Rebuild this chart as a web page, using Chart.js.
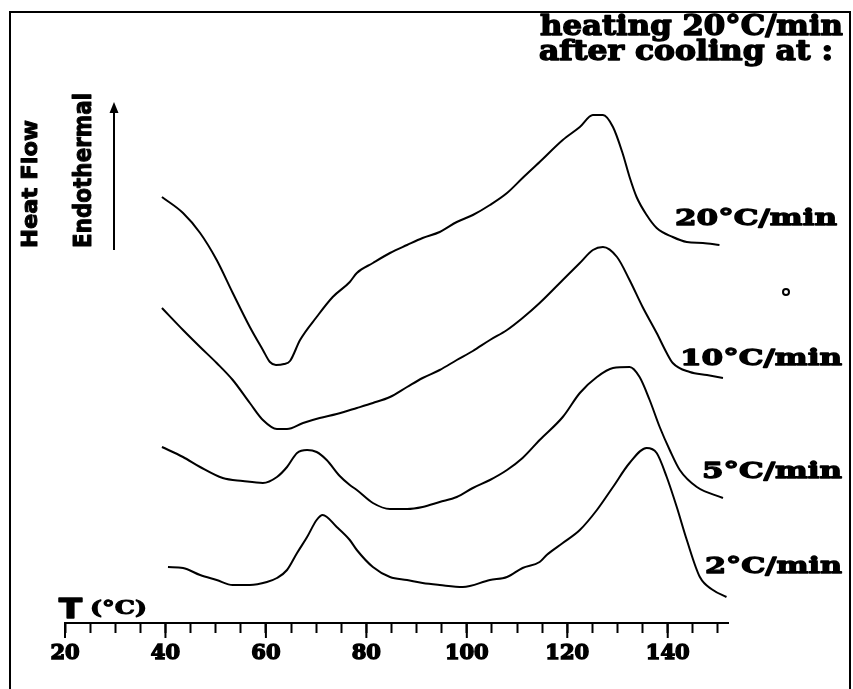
<!DOCTYPE html>
<html>
<head>
<meta charset="utf-8">
<script src="https://cdn.jsdelivr.net/npm/chart.js@4.4.1/dist/chart.umd.min.js"></script>
<style>
  html, body { margin: 0; padding: 0; background: #fff; }
  canvas { display: block; }
</style>
</head>
<body>
<canvas id="dscChart" width="853" height="689"></canvas>
<script>
// cooling rates (series names)
const rateLabels = ['20°C/min', '10°C/min', '5°C/min', '2°C/min'];
const tickLabels = [20, 40, 60, 80, 100, 120, 140];

// temperature (°C) and heat flow (arbitrary units, stacked offsets as in the figure)
const temp20 = [39.3, 43.5, 46.9, 50.2, 53.4, 56.8, 59.4, 60.8, 62.0, 63.6, 64.8, 66.8, 70.1, 73.3, 76.7, 78.1, 81.3, 84.7, 88.1, 91.2, 94.6, 98.0, 101.2, 104.6, 108.0, 111.1, 114.5, 119.1, 122.5, 125.1, 127.1, 129.1, 131.0, 132.4, 133.8, 135.8, 137.8, 141.0, 143.8, 147.0, 150.3];
const flow20 = [42.6, 41.0, 39.0, 36.3, 33.0, 29.6, 27.3, 26.1, 25.8, 25.9, 26.2, 28.3, 30.6, 32.6, 34.1, 35.0, 36.0, 37.0, 37.8, 38.5, 39.1, 40.1, 40.8, 41.8, 43.0, 44.5, 46.1, 48.3, 49.6, 50.8, 50.8, 49.6, 47.0, 44.6, 42.6, 40.8, 39.5, 38.6, 38.1, 38.0, 37.8];

const temp10 = [39.3, 43.5, 46.9, 50.2, 53.4, 56.8, 59.4, 62.2, 64.2, 67.4, 70.7, 74.1, 78.1, 81.3, 84.7, 88.1, 91.2, 94.6, 98.0, 101.2, 104.6, 108.0, 111.1, 114.5, 119.1, 122.5, 125.1, 127.1, 129.9, 132.4, 135.0, 137.8, 139.8, 141.0, 144.4, 147.8, 151.0];
const flow10 = [31.5, 29.3, 27.6, 26.0, 24.3, 22.0, 20.3, 19.4, 19.4, 20.0, 20.5, 20.9, 21.5, 22.0, 22.6, 23.6, 24.5, 25.3, 26.3, 27.2, 28.3, 29.3, 30.5, 32.0, 34.3, 36.0, 37.3, 37.6, 36.6, 34.3, 31.6, 29.0, 27.0, 26.0, 25.1, 24.8, 24.5];

const temp5 = [39.3, 43.5, 46.9, 51.4, 55.4, 59.4, 62.2, 64.2, 66.2, 68.2, 70.1, 72.1, 74.7, 76.7, 78.1, 81.3, 84.7, 88.1, 91.2, 94.6, 98.0, 101.2, 104.6, 108.0, 111.1, 114.5, 119.1, 122.5, 125.9, 129.1, 132.4, 134.4, 136.4, 138.4, 140.4, 142.4, 145.8, 151.0];
const flow5 = [17.6, 16.6, 15.6, 14.5, 14.2, 14.0, 14.6, 15.6, 17.0, 17.3, 17.1, 16.3, 14.7, 13.8, 13.3, 12.0, 11.4, 11.4, 11.6, 12.1, 12.6, 13.5, 14.3, 15.3, 16.5, 18.3, 20.6, 23.0, 24.6, 25.5, 25.6, 24.6, 22.3, 19.6, 17.3, 15.3, 13.6, 12.5];

const temp2 = [40.5, 43.5, 46.9, 50.2, 53.4, 56.8, 60.2, 62.2, 64.2, 66.2, 68.2, 70.1, 71.3, 74.1, 76.7, 78.1, 81.3, 84.7, 88.1, 91.2, 94.6, 99.2, 104.6, 108.0, 111.1, 114.5, 115.9, 119.1, 122.5, 125.9, 129.1, 132.4, 135.8, 137.8, 139.8, 141.8, 143.8, 146.4, 149.0, 151.7];
const flow2 = [5.6, 5.5, 4.8, 4.3, 3.8, 3.8, 4.1, 4.5, 5.3, 7.0, 8.6, 10.3, 10.8, 9.6, 8.3, 7.3, 5.6, 4.6, 4.3, 4.0, 3.8, 3.6, 4.3, 4.6, 5.5, 6.1, 6.8, 8.0, 9.3, 11.3, 13.6, 16.0, 17.5, 17.0, 14.6, 11.6, 8.3, 4.6, 3.3, 2.6];

const toPoints = (xs, ys) => xs.map((x, i) => ({ x: x, y: ys[i] }));

function makeSet(label, xs, ys) {
    return {
        label: label,
        data: toPoints(xs, ys),
        borderColor: '#000',
        borderWidth: 2,
        pointRadius: 0,
        fill: false,
        cubicInterpolationMode: 'monotone'
    };
}

// draws heavy bold text squeezed/stretched into a given box
function fitText(ctx, text, left, right, baseline, size, family, stroke) {
    ctx.font = 'bold ' + size + 'px ' + family;
    const w = ctx.measureText(text).width;
    ctx.save();
    ctx.translate(left, baseline);
    ctx.scale((right - left) / w, 1);
    ctx.textAlign = 'left';
    ctx.textBaseline = 'alphabetic';
    ctx.lineJoin = 'round';
    ctx.lineWidth = stroke;
    ctx.fillText(text, 0, 0);
    if (stroke) ctx.strokeText(text, 0, 0);
    ctx.restore();
}

function fitTextUp(ctx, text, baseX, bottom, top, size, family, stroke) {
    ctx.font = 'bold ' + size + 'px ' + family;
    const w = ctx.measureText(text).width;
    ctx.save();
    ctx.translate(baseX, bottom);
    ctx.rotate(-Math.PI / 2);
    ctx.scale((bottom - top) / w, 1);
    ctx.textAlign = 'left';
    ctx.textBaseline = 'alphabetic';
    ctx.lineJoin = 'round';
    ctx.lineWidth = stroke;
    ctx.fillText(text, 0, 0);
    if (stroke) ctx.strokeText(text, 0, 0);
    ctx.restore();
}

const decorPlugin = {
    id: 'decor',
    beforeDraw(chart) {
        const ctx = chart.ctx;
        ctx.save();
        ctx.fillStyle = '#fff';
        ctx.fillRect(0, 0, chart.width, chart.height);
        ctx.restore();
    },
    afterDraw(chart) {
        const ctx = chart.ctx;
        const xs = chart.scales.x;
        const axisY = chart.chartArea.bottom;
        ctx.save();
        ctx.strokeStyle = '#000';
        ctx.fillStyle = '#000';

        // frame
        ctx.lineWidth = 2;
        ctx.beginPath();
        ctx.moveTo(10, chart.height);
        ctx.lineTo(10, 12);
        ctx.lineTo(850, 12);
        ctx.lineTo(850, chart.height);
        ctx.stroke();

        // longer major ticks
        tickLabels.forEach(v => {
            const px = xs.getPixelForValue(v);
            ctx.beginPath();
            ctx.moveTo(px, axisY);
            ctx.lineTo(px, axisY + 15);
            ctx.stroke();
        });

        // heading
        fitText(ctx, 'heating 20°C/min', 540, 843, 35, 27, 'DejaVu Serif', 1.4);
        fitText(ctx, 'after cooling at :', 539, 833, 60, 27, 'DejaVu Serif', 1.4);

        // series labels
        fitText(ctx, rateLabels[0], 675, 837, 225, 23, 'DejaVu Serif', 1.3);
        fitText(ctx, rateLabels[1], 680, 842, 365, 23, 'DejaVu Serif', 1.3);
        fitText(ctx, rateLabels[2], 702, 842, 478, 23, 'DejaVu Serif', 1.3);
        fitText(ctx, rateLabels[3], 705, 842, 573, 23, 'DejaVu Serif', 1.3);

        // stray degree mark
        ctx.lineWidth = 2;
        ctx.beginPath();
        ctx.arc(786, 292, 3, 0, Math.PI * 2);
        ctx.stroke();

        // y label + arrow
        fitTextUp(ctx, 'Heat Flow', 37, 248, 120, 22, 'DejaVu Sans', 1);
        fitTextUp(ctx, 'Endothermal', 91, 248, 93, 25, 'DejaVu Sans', 1);
        ctx.lineWidth = 2;
        ctx.beginPath();
        ctx.moveTo(114, 250);
        ctx.lineTo(114, 110);
        ctx.stroke();
        ctx.beginPath();
        ctx.moveTo(114, 102);
        ctx.lineTo(109.5, 113);
        ctx.lineTo(118.5, 113);
        ctx.closePath();
        ctx.fill();

        // axis title
        fitText(ctx, 'T', 59, 82, 618, 27, 'DejaVu Sans', 1.5);
        fitText(ctx, '(°C)', 90, 147, 614, 18, 'DejaVu Serif', 1);

        ctx.restore();
    }
};

new Chart(document.getElementById('dscChart'), {
    type: 'line',
    data: {
        datasets: [
            makeSet(rateLabels[0], temp20, flow20),
            makeSet(rateLabels[1], temp10, flow10),
            makeSet(rateLabels[2], temp5, flow5),
            makeSet(rateLabels[3], temp2, flow2)
        ]
    },
    options: {
        responsive: false,
        animation: false,
        devicePixelRatio: 1,
        layout: { padding: { left: 65, right: 125, top: 12, bottom: 0 } },
        plugins: {
            legend: { display: false },
            tooltip: { enabled: false }
        },
        scales: {
            x: {
                type: 'linear',
                min: 20,
                max: 152,
                afterFit: scale => { scale.height = 66; },
                border: { display: true, color: '#000', width: 2 },
                grid: {
                    display: true,
                    drawOnChartArea: false,
                    drawTicks: true,
                    tickLength: 10,
                    tickWidth: 2,
                    tickColor: '#000'
                },
                ticks: {
                    stepSize: 5,
                    includeBounds: false,
                    autoSkip: false,
                    maxRotation: 0,
                    padding: 8,
                    color: '#000',
                    textStrokeColor: '#000',
                    textStrokeWidth: 1.5,
                    font: { family: 'DejaVu Serif', weight: 'bold', size: 21 },
                    callback: v => tickLabels.includes(v) ? String(v) : ''
                }
            },
            y: {
                type: 'linear',
                display: false,
                min: 0,
                max: 61.1
            }
        }
    },
    plugins: [decorPlugin]
});
</script>
</body>
</html>
